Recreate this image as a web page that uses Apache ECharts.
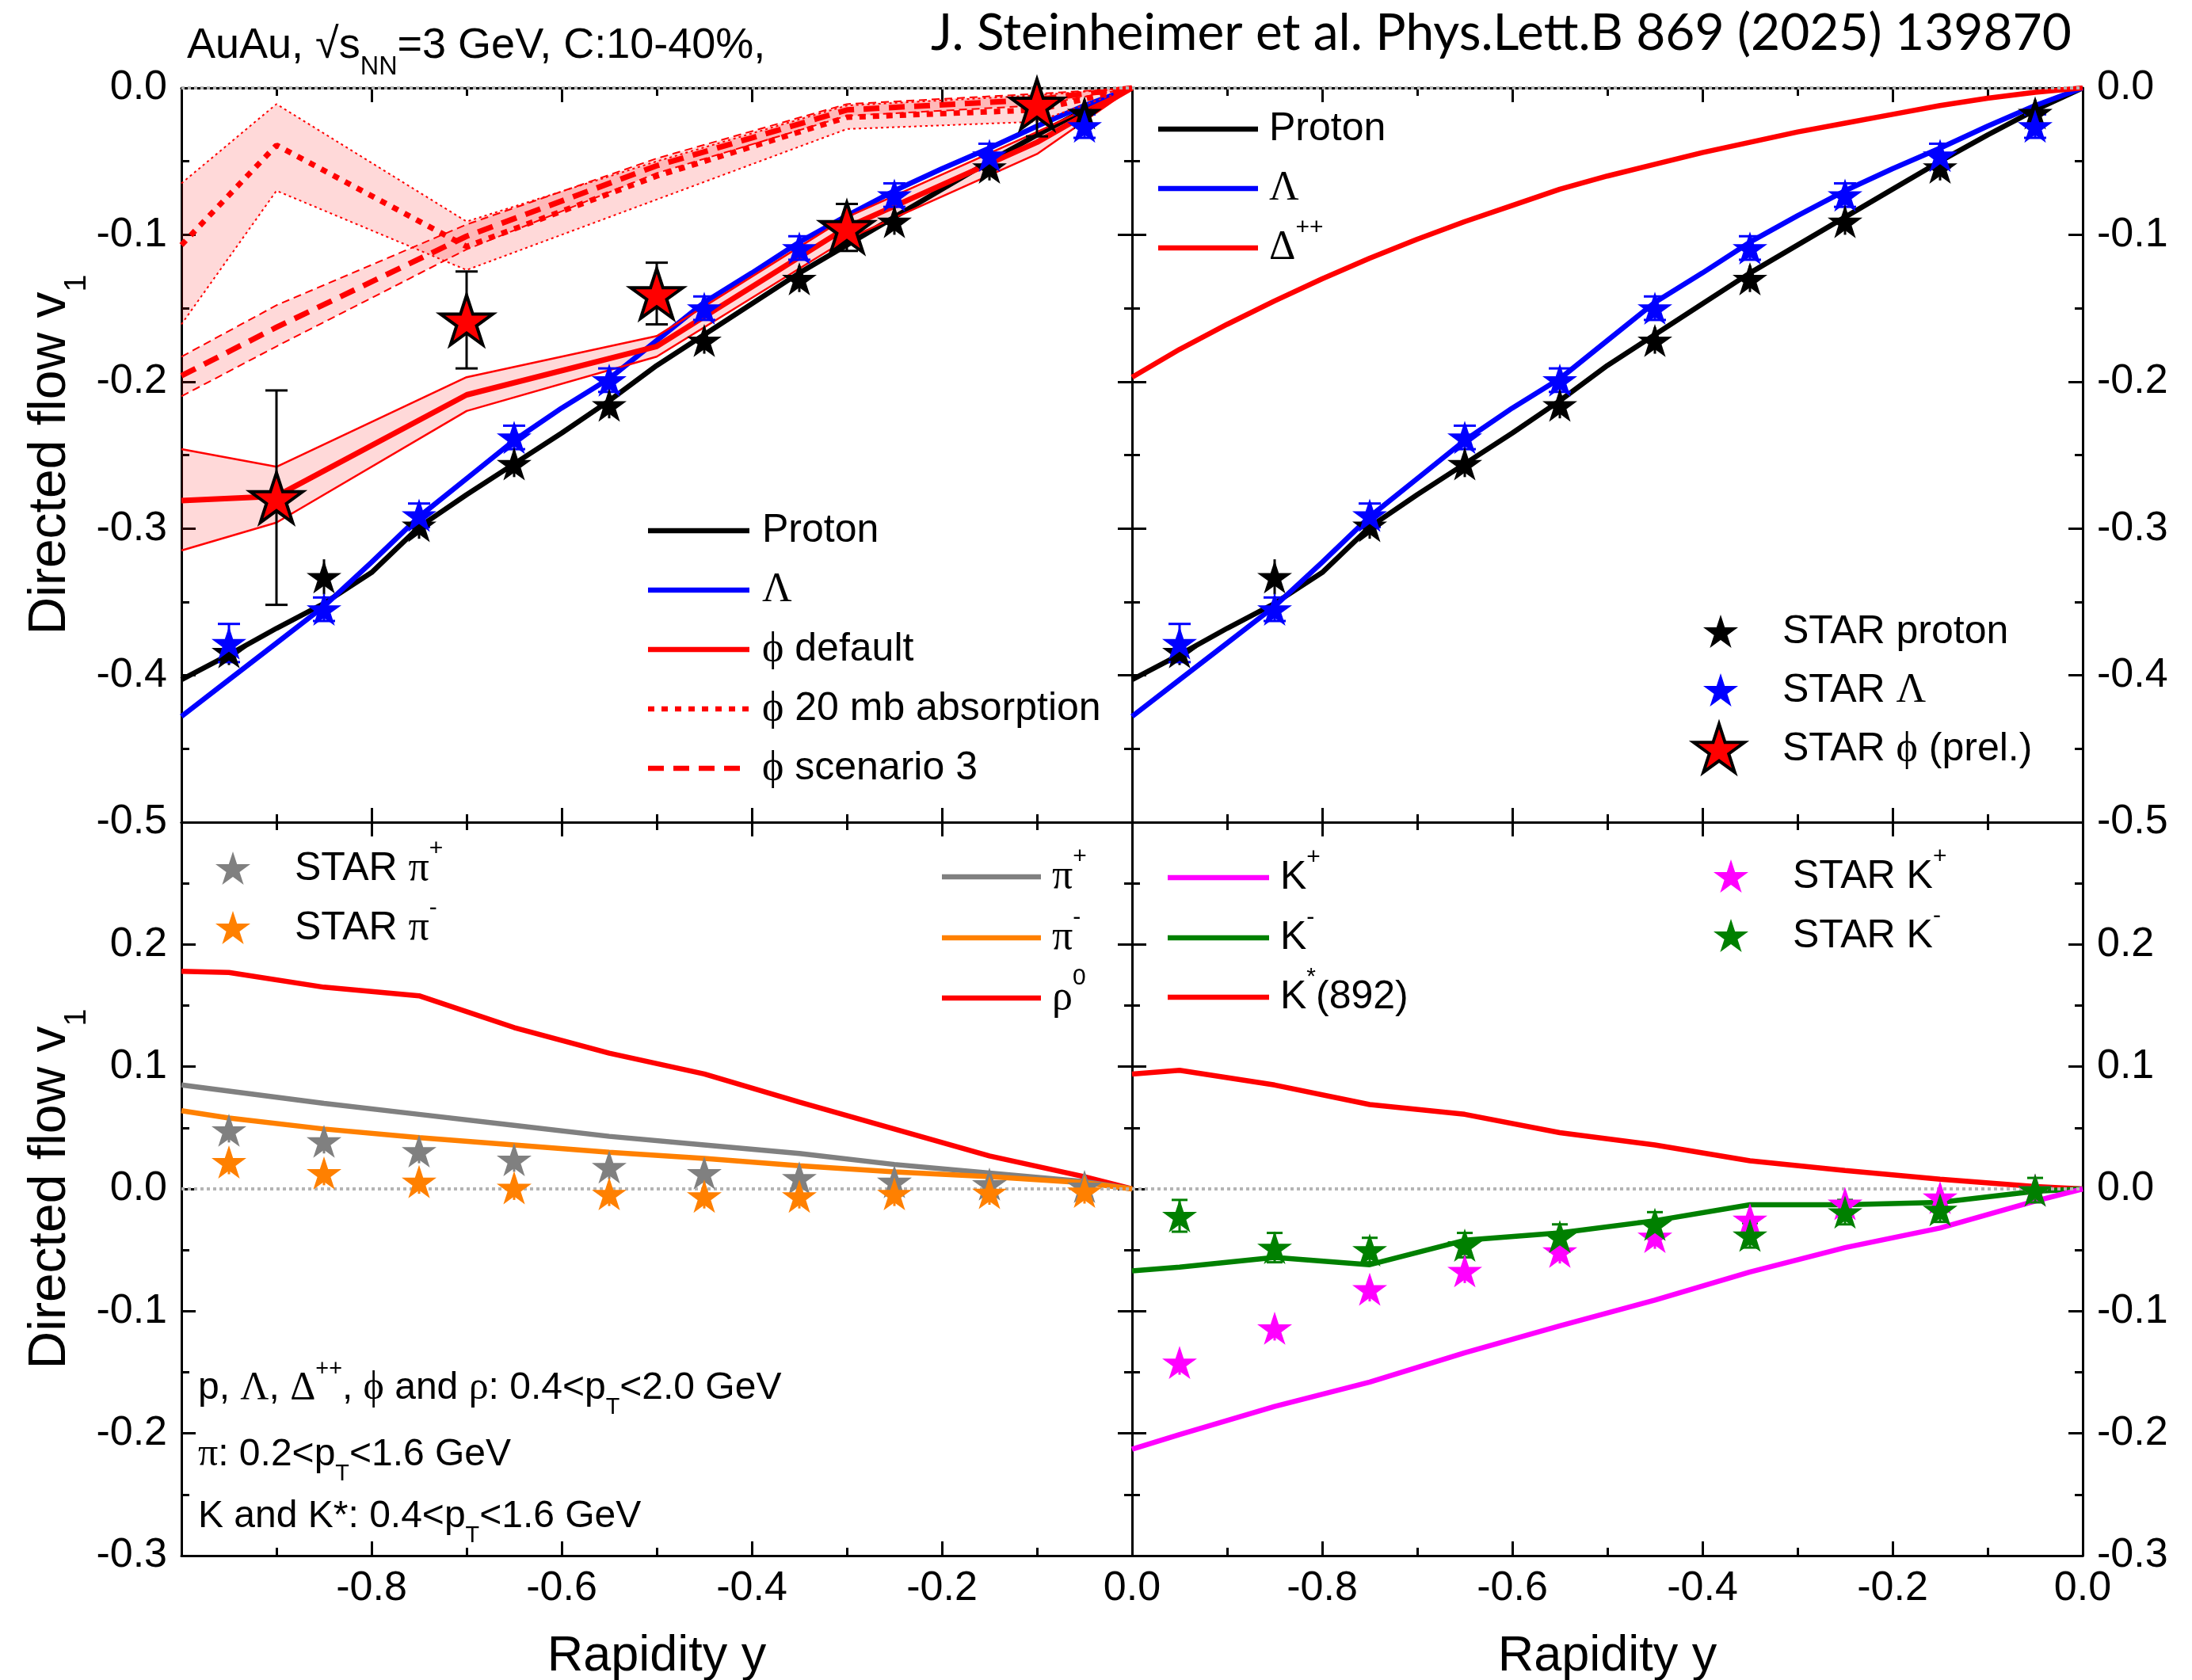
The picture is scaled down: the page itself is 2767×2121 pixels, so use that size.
<!DOCTYPE html>
<html>
<head>
<meta charset="utf-8">
<script src="https://cdn.jsdelivr.net/npm/echarts@6/dist/echarts.min.js"></script>
<style>
  html, body { margin: 0; padding: 0; background: #fff; }
  #chart { width: 2767px; height: 2121px; }
</style>
</head>
<body>
<div id="chart"></div>
<script>
// rapidity grids
const modelX = [-1.0, -0.95, -0.9, -0.85, -0.8, -0.75, -0.7, -0.65, -0.6, -0.55, -0.5, -0.45, -0.4, -0.35, -0.3, -0.25, -0.2, -0.15, -0.1, -0.05, 0.0]
const starX = [-0.95, -0.85, -0.75, -0.65, -0.55, -0.45, -0.35, -0.25, -0.15, -0.05]
const phiModelX = [-1.0, -0.9, -0.7, -0.5, -0.3, -0.1, 0.0]
const phiStarX = [-0.9, -0.7, -0.5, -0.3, -0.1]
const mesonX = [-1.0, -0.95, -0.85, -0.75, -0.65, -0.55, -0.45, -0.35, -0.25, -0.15, -0.05, 0.0]

// top panels: model curves
const protonModel = [-0.403, -0.386, -0.368, -0.351, -0.330, -0.299, -0.277, -0.256, -0.235, -0.213, -0.189, -0.168, -0.147, -0.126, -0.107, -0.088, -0.069, -0.050, -0.032, -0.015, 0]
const lambdaModel = [-0.428, -0.403, -0.378, -0.353, -0.323, -0.292, -0.266, -0.240, -0.218, -0.198, -0.172, -0.146, -0.126, -0.105, -0.087, -0.070, -0.055, -0.041, -0.026, -0.012, 0]
const deltaModel = [-0.197, -0.178, -0.161, -0.145, -0.130, -0.116, -0.103, -0.091, -0.080, -0.069, -0.060, -0.052, -0.044, -0.037, -0.030, -0.024, -0.018, -0.012, -0.007, -0.003, 0]

// phi model: centre line and band edges
const phiDefault = [-0.281, -0.278, -0.209, -0.176, -0.095, -0.037, 0]
const phiDefaultHi = [-0.246, -0.258, -0.197, -0.169, -0.088, -0.030, 0]
const phiDefaultLo = [-0.315, -0.296, -0.220, -0.183, -0.103, -0.045, 0]
const phi20mb = [-0.107, -0.039, -0.108, -0.060, -0.020, -0.015, 0]
const phi20mbHi = [-0.065, -0.011, -0.091, -0.050, -0.012, -0.005, 0]
const phi20mbLo = [-0.161, -0.070, -0.124, -0.076, -0.028, -0.023, 0]
const phiScen3 = [-0.196, -0.163, -0.101, -0.053, -0.015, -0.008, 0]
const phiScen3Hi = [-0.183, -0.148, -0.093, -0.048, -0.011, -0.004, 0]
const phiScen3Lo = [-0.210, -0.176, -0.110, -0.058, -0.019, -0.012, 0]

// STAR data, top panels
const starProton = [-0.384, -0.333, -0.298, -0.256, -0.216, -0.172, -0.130, -0.091, -0.054, -0.017]
const starProtonErr = [0.009, 0.012, 0.009, 0.009, 0.009, 0.009, 0.009, 0.009, 0.009, 0.009]
const starLambda = [-0.378, -0.355, -0.291, -0.238, -0.199, -0.150, -0.109, -0.073, -0.046, -0.026]
const starLambdaErr = [0.013, 0.008, 0.008, 0.008, 0.008, 0.008, 0.008, 0.008, 0.008, 0.008]
const starPhi = [-0.279, -0.158, -0.140, -0.095, -0.011]
const starPhiErr = [0.073, 0.033, 0.021, 0.016, 0.022]

// bottom panels: model curves
const rho0Model = [0.178, 0.177, 0.165, 0.158, 0.132, 0.111, 0.094, 0.071, 0.049, 0.027, 0.010, 0]
const piPlusModel = [0.085, 0.080, 0.070, 0.061, 0.052, 0.043, 0.036, 0.029, 0.020, 0.013, 0.006, 0]
const piMinusModel = [0.064, 0.058, 0.049, 0.042, 0.036, 0.030, 0.025, 0.019, 0.014, 0.010, 0.005, 0]
const kStarModel = [0.094, 0.097, 0.085, 0.069, 0.061, 0.046, 0.036, 0.023, 0.015, 0.008, 0.002, 0]
const kMinusModel = [-0.067, -0.064, -0.056, -0.062, -0.042, -0.036, -0.026, -0.013, -0.013, -0.011, -0.002, 0]
const kPlusModel = [-0.213, -0.201, -0.178, -0.158, -0.134, -0.112, -0.091, -0.068, -0.048, -0.032, -0.010, 0]

// STAR data, bottom panels
const starPiPlus = [0.048, 0.039, 0.031, 0.024, 0.018, 0.013, 0.009, 0.006, 0.004, 0.002]
const starPiMinus = [0.022, 0.013, 0.006, 0.001, -0.004, -0.006, -0.006, -0.004, -0.003, -0.002]
const starPiErr = [0.010, 0.010, 0.010, 0.010, 0.010, 0.010, 0.010, 0.010, 0.010, 0.010]
const starKPlus = [-0.142, -0.114, -0.082, -0.067, -0.051, -0.039, -0.025, -0.012, -0.007, -0.001]
const starKMinus = [-0.022, -0.048, -0.050, -0.046, -0.039, -0.029, -0.038, -0.019, -0.017, -0.001]
const starKPlusErr = [0.010, 0.010, 0.010, 0.010, 0.010, 0.010, 0.010, 0.010, 0.010, 0.010]
const starKMinusErr = [0.013, 0.012, 0.010, 0.010, 0.010, 0.010, 0.010, 0.010, 0.010, 0.010]

const FONT = '"Liberation Sans", Arial, sans-serif'
const SERIF = '"Liberation Serif", "DejaVu Serif", serif'
// five-pointed star outline, unit outer radius
const STAR_PTS = [[0, -1], [0.2245, -0.309], [0.951, -0.309], [0.363, 0.118], [0.588, 0.809], [0, 0.382], [-0.588, 0.809], [-0.363, 0.118], [-0.951, -0.309], [-0.2245, -0.309]]
const STAR = 'M' + STAR_PTS.map(p => p.join(',')).join('L') + 'Z'

const RED = '#ff0000'
const BLUE = '#0000ff'
const GRAY = '#808080'
const ORANGE = '#ff8000'
const MAGENTA = '#ff00ff'
const GREEN = '#008000'
const LW = 6.5

const pairs = (xs, ys) => xs.map((x, i) => [x, ys[i]])
const triples = (xs, ys, es) => xs.map((x, i) => [x, ys[i], es[i]])

function xAx(grid, position, name) {
  return {
    type: 'value',
    gridIndex: grid,
    position,
    min: -1,
    max: 0,
    interval: 0.2,
    name: name || '',
    nameLocation: 'middle',
    nameGap: 96,
    nameTextStyle: { fontSize: 63, fontFamily: FONT, color: '#000' },
    axisLine: { onZero: false, lineStyle: { color: '#000', width: 3 } },
    axisTick: { inside: true, length: 18, lineStyle: { color: '#000', width: 3 } },
    minorTick: { show: true, splitNumber: 2, length: 10, lineStyle: { color: '#000', width: 3 } },
    splitLine: { show: false },
    minorSplitLine: { show: false },
    axisLabel: {
      show: !!name,
      margin: 16,
      fontSize: 52,
      fontFamily: FONT,
      color: '#000',
      formatter: v => (v < -0.99 ? '' : v.toFixed(1))
    }
  }
}

function yAx(grid, position, showLabel, top) {
  return {
    type: 'value',
    gridIndex: grid,
    position,
    min: top ? -0.5 : -0.3,
    max: top ? 0 : 0.3,
    interval: 0.1,
    axisLine: { onZero: false, lineStyle: { color: '#000', width: 3 } },
    axisTick: { inside: true, length: 18, lineStyle: { color: '#000', width: 3 } },
    minorTick: { show: true, splitNumber: 2, length: 10, lineStyle: { color: '#000', width: 3 } },
    splitLine: { show: false },
    minorSplitLine: { show: false },
    axisLabel: {
      show: showLabel,
      margin: 18,
      fontSize: 52,
      fontFamily: FONT,
      color: '#000',
      formatter: v => (!top && v > 0.29 ? '' : v.toFixed(1))
    }
  }
}

function line(g, xs, ys, color, width, dash, z) {
  return {
    type: 'line',
    xAxisIndex: 2 * g,
    yAxisIndex: 2 * g,
    data: pairs(xs, ys),
    showSymbol: false,
    silent: true,
    z: z || 3,
    lineStyle: { color, width, type: dash || 'solid' }
  }
}

function band(g, xs, lo, hi) {
  return {
    type: 'custom',
    xAxisIndex: 2 * g,
    yAxisIndex: 2 * g,
    silent: true,
    z: 1,
    data: xs.map((x, i) => [x, lo[i], hi[i]]),
    renderItem(params, api) {
      if (params.dataIndex !== 0) return
      const pts = []
      for (let i = 0; i < xs.length; i++) pts.push(api.coord([xs[i], hi[i]]))
      for (let i = xs.length - 1; i >= 0; i--) pts.push(api.coord([xs[i], lo[i]]))
      return { type: 'polygon', shape: { points: pts }, style: { fill: 'rgba(255, 0, 0, 0.15)' } }
    }
  }
}

function errors(g, xs, ys, es, color, cap) {
  return {
    type: 'custom',
    xAxisIndex: 2 * g,
    yAxisIndex: 2 * g,
    silent: true,
    clip: true,
    z: 4,
    data: triples(xs, ys, es),
    renderItem(params, api) {
      const x = api.value(0)
      const y = api.value(1)
      const e = api.value(2)
      const hi = api.coord([x, y + e])
      const lo = api.coord([x, y - e])
      const children = [{ type: 'line', shape: { x1: hi[0], y1: hi[1], x2: lo[0], y2: lo[1] }, style: { stroke: color, lineWidth: 3 } }]
      if (cap) {
        children.push({ type: 'line', shape: { x1: hi[0] - cap, y1: hi[1], x2: hi[0] + cap, y2: hi[1] }, style: { stroke: color, lineWidth: 3 } })
        children.push({ type: 'line', shape: { x1: lo[0] - cap, y1: lo[1], x2: lo[0] + cap, y2: lo[1] }, style: { stroke: color, lineWidth: 3 } })
      }
      return { type: 'group', children }
    }
  }
}

function stars(g, xs, ys, color, size, border) {
  return {
    type: 'scatter',
    xAxisIndex: 2 * g,
    yAxisIndex: 2 * g,
    data: pairs(xs, ys),
    symbol: 'path://' + STAR,
    symbolKeepAspect: true,
    symbolSize: size,
    silent: true,
    z: 5,
    itemStyle: border
      ? { color, borderColor: '#000', borderWidth: 4, opacity: 1 }
      : { color, opacity: 1 }
  }
}

const zeroLine = {
  silent: true,
  symbol: 'none',
  label: { show: false },
  lineStyle: { type: 'dotted', color: '#b4b4b4', width: 4 },
  data: [{ yAxis: 0 }]
}

function rich(fs) {
  return {
    g: { fontFamily: SERIF, fontSize: fs * 1.04, lineHeight: fs * 1.6 },
    sup: { fontFamily: FONT, fontSize: fs * 0.6, lineHeight: fs * 0.6, verticalAlign: 'top' },
    sub: { fontFamily: FONT, fontSize: fs * 0.6, lineHeight: fs * 0.6, verticalAlign: 'bottom' }
  }
}

function txt(x, y, text, fs, align, rotation) {
  return {
    type: 'text',
    x,
    y,
    z: 100,
    rotation: rotation || 0,
    style: {
      text,
      fontSize: fs,
      fontFamily: FONT,
      lineHeight: fs * 1.6,
      fill: '#000',
      align: align || 'left',
      verticalAlign: 'middle',
      rich: rich(fs)
    }
  }
}

function legLine(x1, x2, y, color, dash) {
  return {
    type: 'line',
    z: 100,
    shape: { x1, y1: y, x2, y2: y },
    style: { stroke: color, lineWidth: LW, lineDash: dash || null }
  }
}

function legStar(cx, cy, size, color, border) {
  const r = size / 1.9
  return {
    type: 'polygon',
    z: 100,
    shape: { points: STAR_PTS.map(p => [cx + p[0] * r, cy + 0.05 * r + p[1] * r]) },
    style: border ? { fill: color, stroke: '#000', lineWidth: 4 } : { fill: color }
  }
}

const chart = echarts.init(document.getElementById('chart'))

const topLeft = [
  band(0, phiModelX, phi20mbLo, phi20mbHi),
  band(0, phiModelX, phiScen3Lo, phiScen3Hi),
  band(0, phiModelX, phiDefaultLo, phiDefaultHi),
  Object.assign(line(0, modelX, protonModel, '#000', LW), { markLine: zeroLine }),
  line(0, modelX, lambdaModel, BLUE, LW),
  line(0, phiModelX, phi20mbHi, RED, 2, [3, 4]),
  line(0, phiModelX, phi20mbLo, RED, 2, [3, 4]),
  line(0, phiModelX, phiScen3Hi, RED, 2, [10, 6]),
  line(0, phiModelX, phiScen3Lo, RED, 2, [10, 6]),
  line(0, phiModelX, phiDefaultHi, RED, 2.5),
  line(0, phiModelX, phiDefaultLo, RED, 2.5),
  line(0, phiModelX, phi20mb, RED, 7, [8, 9]),
  line(0, phiModelX, phiScen3, RED, 7, [20, 12]),
  line(0, phiModelX, phiDefault, RED, 7),
  errors(0, starX, starProton, starProtonErr, '#000', 0),
  errors(0, starX, starLambda, starLambdaErr, BLUE, 14),
  errors(0, phiStarX, starPhi, starPhiErr, '#000', 14),
  stars(0, starX, starProton, '#000', 44),
  stars(0, starX, starLambda, BLUE, 44),
  stars(0, phiStarX, starPhi, RED, 66, true)
]

const topRight = [
  Object.assign(line(1, modelX, protonModel, '#000', LW), { markLine: zeroLine }),
  line(1, modelX, lambdaModel, BLUE, LW),
  line(1, modelX, deltaModel, RED, LW),
  errors(1, starX, starProton, starProtonErr, '#000', 0),
  errors(1, starX, starLambda, starLambdaErr, BLUE, 14),
  stars(1, starX, starProton, '#000', 44),
  stars(1, starX, starLambda, BLUE, 44)
]

const bottomLeft = [
  Object.assign(line(2, mesonX, rho0Model, RED, LW), { markLine: zeroLine }),
  line(2, mesonX, piPlusModel, GRAY, LW),
  line(2, mesonX, piMinusModel, ORANGE, LW),
  errors(2, starX, starPiPlus, starPiErr, GRAY, 0),
  errors(2, starX, starPiMinus, starPiErr, ORANGE, 0),
  stars(2, starX, starPiPlus, GRAY, 44),
  stars(2, starX, starPiMinus, ORANGE, 44)
]

const bottomRight = [
  Object.assign(line(3, mesonX, kStarModel, RED, LW), { markLine: zeroLine }),
  line(3, mesonX, kMinusModel, GREEN, LW),
  line(3, mesonX, kPlusModel, MAGENTA, LW),
  errors(3, starX, starKPlus, starKPlusErr, MAGENTA, 0),
  errors(3, starX, starKMinus, starKMinusErr, GREEN, 10),
  stars(3, starX, starKPlus, MAGENTA, 44),
  stars(3, starX, starKMinus, GREEN, 44)
]

const graphics = [
  // header
  txt(236, 58, 'AuAu, \u221As{sub|NN}=3 GeV, C:10-40%,', 54),
  {
    type: 'text', x: 1175, y: 42, z: 100,
    style: { text: 'J. Steinheimer et al. Phys.Lett.B 869 (2025) 139870', fontSize: 64, fontFamily: 'Lato', fill: '#000', align: 'left', verticalAlign: 'middle' }
  },
  // y titles
  txt(64, 574, 'Directed flow v{sub|1}', 66, 'center', Math.PI / 2),
  txt(64, 1501, 'Directed flow v{sub|1}', 66, 'center', Math.PI / 2),

  // top-left legend
  legLine(818, 946, 670, '#000'),
  txt(962, 670, 'Proton', 50),
  legLine(818, 946, 745, BLUE),
  txt(962, 745, '{g|\u039B}', 50),
  legLine(818, 946, 820, RED),
  txt(962, 820, '{g|\u03D5} default', 50),
  legLine(818, 946, 895, RED, [8, 9]),
  txt(962, 895, '{g|\u03D5} 20 mb absorption', 50),
  legLine(818, 946, 970, RED, [20, 12]),
  txt(962, 970, '{g|\u03D5} scenario 3', 50),

  // top-right legends
  legLine(1462, 1588, 163, '#000'),
  txt(1602, 163, 'Proton', 50),
  legLine(1462, 1588, 238, BLUE),
  txt(1602, 238, '{g|\u039B}', 50),
  legLine(1462, 1588, 313, RED),
  txt(1602, 313, '{g|\u0394}{sup|++}', 50),
  legStar(2172, 798, 44, '#000'),
  txt(2250, 798, 'STAR proton', 50),
  legStar(2172, 872, 44, BLUE),
  txt(2250, 872, 'STAR {g|\u039B}', 50),
  legStar(2170, 946, 64, RED, true),
  txt(2250, 946, 'STAR {g|\u03D5} (prel.)', 50),

  // bottom-left legends
  legStar(294, 1097, 44, GRAY),
  txt(372, 1097, 'STAR {g|\u03C0}{sup|+}', 50),
  legStar(294, 1172, 44, ORANGE),
  txt(372, 1172, 'STAR {g|\u03C0}{sup|-}', 50),
  legLine(1189, 1314, 1107, GRAY),
  txt(1328, 1107, '{g|\u03C0}{sup|+}', 50),
  legLine(1189, 1314, 1184, ORANGE),
  txt(1328, 1184, '{g|\u03C0}{sup|-}', 50),
  legLine(1189, 1314, 1260, RED),
  txt(1328, 1260, '{g|\u03C1}{sup|0}', 50),
  txt(250, 1753, 'p, {g|\u039B}, {g|\u0394}{sup|++}, {g|\u03D5} and {g|\u03C1}: 0.4<p{sub|T}<2.0 GeV', 48),
  txt(250, 1837, '{g|\u03C0}: 0.2<p{sub|T}<1.6 GeV', 48),
  txt(250, 1915, 'K and K*: 0.4<p{sub|T}<1.6 GeV', 48),

  // bottom-right legends
  legLine(1474, 1602, 1108, MAGENTA),
  txt(1616, 1108, 'K{sup|+}', 50),
  legLine(1474, 1602, 1184, GREEN),
  txt(1616, 1184, 'K{sup|-}', 50),
  legLine(1474, 1602, 1259, RED),
  txt(1616, 1259, 'K{sup|*}(892)', 50),
  legStar(2185, 1107, 44, MAGENTA),
  txt(2263, 1107, 'STAR K{sup|+}', 50),
  legStar(2185, 1182, 44, GREEN),
  txt(2263, 1182, 'STAR K{sup|-}', 50)
]

chart.setOption({
  animation: false,
  backgroundColor: '#fff',
  grid: [
    { left: 229, top: 111, width: 1200, height: 927, outerBoundsMode: 'none' },
    { left: 1429, top: 111, width: 1200, height: 927, outerBoundsMode: 'none' },
    { left: 229, top: 1038, width: 1200, height: 926, outerBoundsMode: 'none' },
    { left: 1429, top: 1038, width: 1200, height: 926, outerBoundsMode: 'none' }
  ],
  xAxis: [
    xAx(0, 'bottom'), xAx(0, 'top'),
    xAx(1, 'bottom'), xAx(1, 'top'),
    xAx(2, 'bottom', 'Rapidity y'), xAx(2, 'top'),
    xAx(3, 'bottom', 'Rapidity y'), xAx(3, 'top')
  ],
  yAxis: [
    yAx(0, 'left', true, true), yAx(0, 'right', false, true),
    yAx(1, 'left', false, true), yAx(1, 'right', true, true),
    yAx(2, 'left', true, false), yAx(2, 'right', false, false),
    yAx(3, 'left', false, false), yAx(3, 'right', true, false)
  ],
  graphic: graphics,
  series: [...topLeft, ...topRight, ...bottomLeft, ...bottomRight]
})
</script>
</body>
</html>
